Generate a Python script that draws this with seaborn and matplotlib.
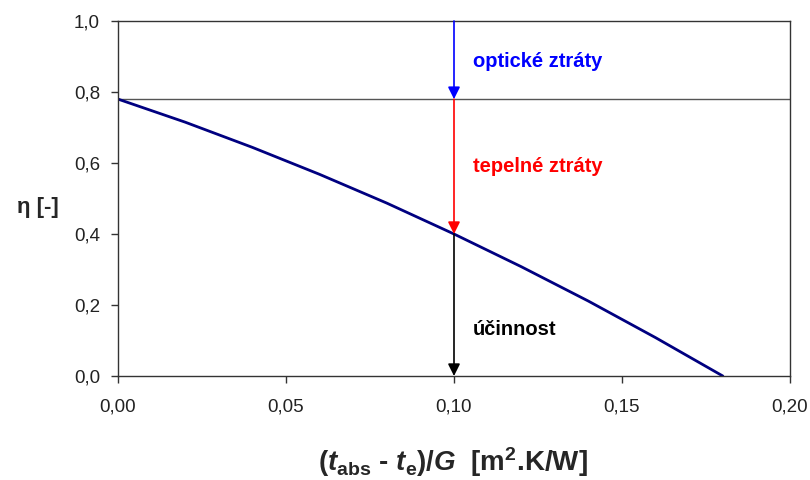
import matplotlib
matplotlib.use("Agg")
import matplotlib.pyplot as plt
import seaborn as sns
import pandas as pd

# data
x_vals = [0.00, 0.02, 0.04, 0.06, 0.08, 0.10, 0.12, 0.14, 0.16, 0.18]
eta_vals = [0.78, 0.715, 0.644, 0.568, 0.487, 0.40, 0.308, 0.211, 0.108, 0.00]
x_ticks = [0.00, 0.05, 0.10, 0.15, 0.20]
x_tick_labels = ["0,00", "0,05", "0,10", "0,15", "0,20"]
y_ticks = [0.0, 0.2, 0.4, 0.6, 0.8, 1.0]
y_tick_labels = ["0,0", "0,2", "0,4", "0,6", "0,8", "1,0"]
eta0 = 0.78
x_marker = 0.10
eta_at_marker = 0.40
labels = ["optické ztráty", "tepelné ztráty", "účinnost"]
label_y = [0.885, 0.589, 0.13]

sns.set_style("ticks")
plt.rcParams["font.family"] = ["Liberation Sans", "DejaVu Sans"]
plt.rcParams["mathtext.fontset"] = "custom"
plt.rcParams["mathtext.rm"] = "Liberation Sans"
plt.rcParams["mathtext.it"] = "Liberation Sans:italic"
plt.rcParams["mathtext.bf"] = "Liberation Sans:bold"
plt.rcParams["mathtext.bfit"] = "Liberation Sans:italic:bold"

fig = plt.figure(figsize=(8.1, 4.8), dpi=100)
ax = fig.add_axes([118/810, 1-376/480, (790-118)/810, (376-21)/480])

df = pd.DataFrame({"x": x_vals, "eta": eta_vals})
sns.lineplot(data=df, x="x", y="eta", ax=ax, color="#000080", linewidth=2.0)

ax.axhline(eta0, color="#555555", linewidth=1.0, zorder=1)

arrow_kw = dict(arrowstyle="-|>,head_length=0.6,head_width=0.3", linewidth=1.2,
                shrinkA=0, shrinkB=0, mutation_scale=12)
ax.annotate("", xy=(x_marker, eta0), xytext=(x_marker, 1.0),
            arrowprops=dict(color="#0000FF", **arrow_kw))
ax.annotate("", xy=(x_marker, eta_at_marker), xytext=(x_marker, eta0),
            arrowprops=dict(color="#FF0000", **arrow_kw))
ax.annotate("", xy=(x_marker, 0.0), xytext=(x_marker, eta_at_marker),
            arrowprops=dict(color="black", **arrow_kw))

colors = ["#0000FF", "#FF0000", "black"]
for t, yy, c in zip(labels, label_y, colors):
    ax.text(0.1057, yy, t, color=c, fontsize=14.5, fontweight="bold",
            ha="left", va="center")

ax.set_xlim(0, 0.20)
ax.set_ylim(0, 1.0)
ax.set_xticks(x_ticks)
ax.set_xticklabels(x_tick_labels, fontsize=13.5)
ax.set_yticks(y_ticks)
ax.set_yticklabels(y_tick_labels, fontsize=13.5)
ax.tick_params(direction="out", length=5, width=1, color="#333333",
               labelcolor="#222222")
ax.tick_params(axis="x", pad=11)
ax.tick_params(axis="y", pad=8)
for s in ax.spines.values():
    s.set_visible(True)
    s.set_color("#333333")
    s.set_linewidth(1.0)

ax.set_xlabel("")
ax.set_ylabel("")
fig.text(38/810, 1-207/480, "η [-]", fontsize=16, fontweight="bold",
         ha="center", va="center")
fig.text(453/810, 1-462/480,
         r"($\mathbfit{t}_{\mathbf{abs}}$ - $\mathbfit{t}_{\mathbf{e}}$)/$\mathbfit{G}$  [m$^{\mathbf{2}}$.K/W]",
         fontsize=20, fontweight="bold", ha="center", va="center")

fig.savefig("out.png", dpi=100)
